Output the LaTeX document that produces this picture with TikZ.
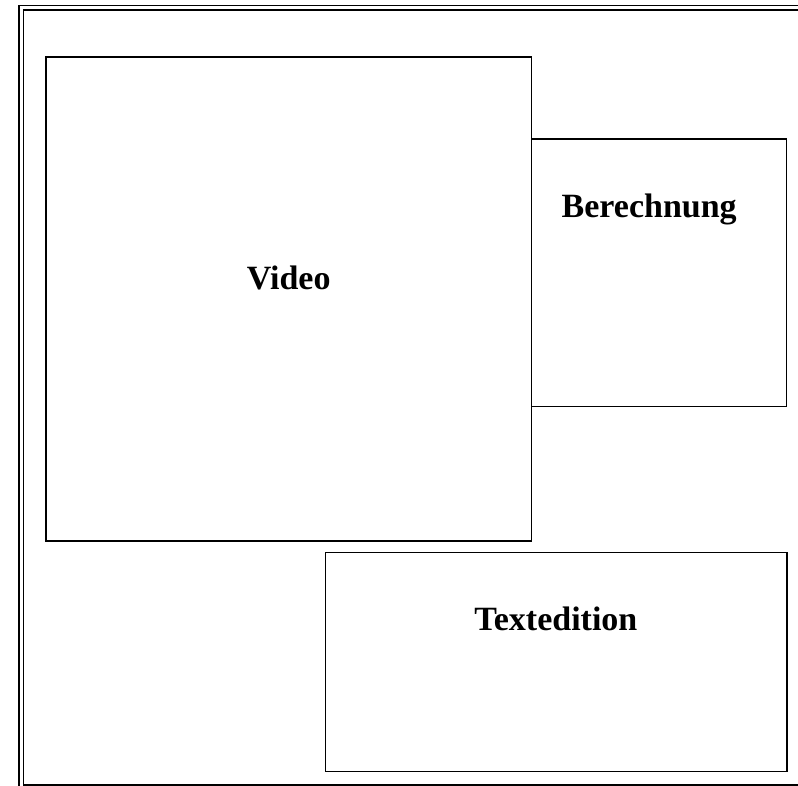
\documentclass[tikz,border=0pt]{standalone}
\usepackage{fontspec}
\setmainfont{Liberation Serif}
\usetikzlibrary{positioning}
\tikzset{pane/.style={%
        rectangle,
        inner sep=0pt,outer sep=0pt,
        anchor=north west,
        line width=1.5pt,
        draw}}
\tikzset{caption/.style={font=\fontsize{34}{40}\selectfont\bfseries,anchor=base}}

\begin{document}
\begin{tikzpicture}[x=1pt,y=-1pt]
  \useasboundingbox (0,0) rectangle (798,786);
  \clip (0,0) rectangle (798,786);
  % page frame
  \draw [line width=1.5pt,double,double distance=3pt] (21.25,7.75) rectangle (830,787.25);
  \node [pane,minimum width=485.5pt,minimum height=484pt] (video) at (46,57) {};
  \node [pane,minimum width=255pt,minimum height=267.5pt] (calc) at (531.5,139) {};
  \node [pane,minimum width=461.5pt,minimum height=219pt] (text) at (325.5,552.5) {};
  \node [caption] (videolbl) at (288.7,289.3) {Video};
  \node [caption] (calclbl) at (649.2,217.3) {Berechnung};
  \node [caption] (textlbl) at (555.8,630.7) {Textedition};
\end{tikzpicture}
\end{document}
